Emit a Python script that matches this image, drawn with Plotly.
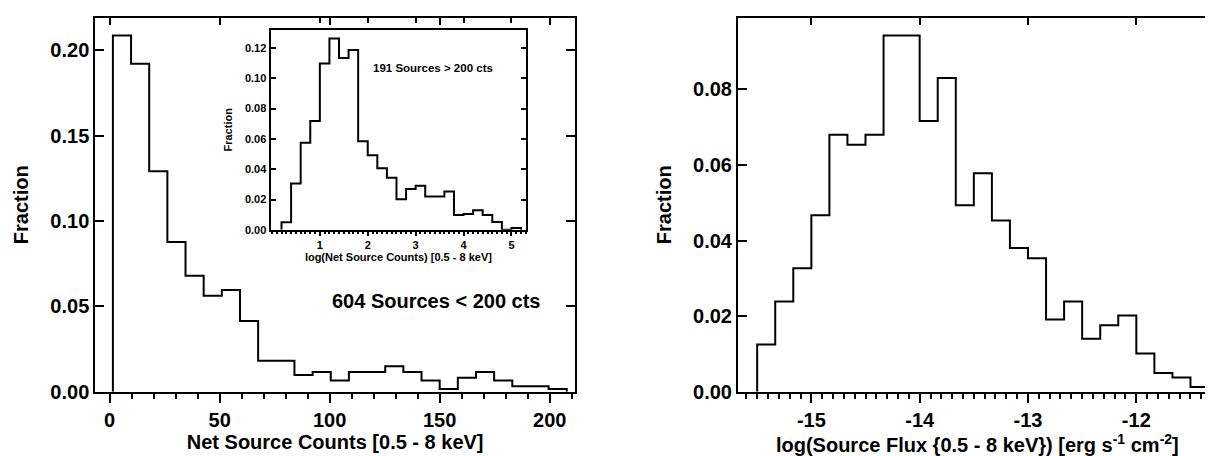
import plotly.graph_objects as go

# ---------------- data ----------------
# Left main panel: Net source counts (0.5-8 keV), 604 sources < 200 cts
counts_edges = [1.5, 9.75, 18.0, 26.25, 34.5, 42.75, 51.0, 59.25, 67.5, 75.75, 84.0,
                92.25, 100.5, 108.75, 117.0, 125.25, 133.5, 141.75, 150.0, 158.25,
                166.5, 174.75, 183.0, 191.25, 199.5, 207.75]
counts_frac = [0.2086, 0.1921, 0.1291, 0.0877, 0.0679, 0.0563, 0.0596, 0.0414, 0.0182,
               0.0182, 0.0099, 0.0116, 0.0066, 0.0116, 0.0116, 0.0149, 0.0116, 0.0066,
               0.0017, 0.0083, 0.0116, 0.0066, 0.0033, 0.0033, 0.0017]

# Inset: log(net source counts), 191 sources > 200 cts
logc_edges = [0.2, 0.4, 0.6, 0.8, 1.0, 1.2, 1.4, 1.6, 1.8, 2.0, 2.2, 2.4, 2.6, 2.8, 3.0,
              3.2, 3.4, 3.6, 3.8, 4.0, 4.2, 4.4, 4.6, 4.8, 5.0, 5.2]
logc_frac = [0.0050, 0.0305, 0.0574, 0.0718, 0.1097, 0.1262, 0.1133, 0.1187, 0.0585,
             0.0492, 0.0406, 0.0344, 0.0202, 0.0269, 0.0290, 0.0219, 0.0219, 0.0252,
             0.0097, 0.0105, 0.0129, 0.0097, 0.0052, 0.0000, 0.0012]

# Right panel: log(source flux)
flux_edges = [-15.5, -15.3333, -15.1667, -15.0, -14.8333, -14.6667, -14.5, -14.3333,
              -14.1667, -14.0, -13.8333, -13.6667, -13.5, -13.3333, -13.1667, -13.0,
              -12.8333, -12.6667, -12.5, -12.3333, -12.1667, -12.0, -11.8333, -11.6667,
              -11.5, -11.3333]
flux_frac = [0.0125, 0.0239, 0.0327, 0.0467, 0.0680, 0.0653, 0.0680, 0.0942, 0.0942,
             0.0716, 0.0830, 0.0493, 0.0578, 0.0453, 0.0380, 0.0353, 0.0191, 0.0239,
             0.0140, 0.0176, 0.0202, 0.0101, 0.0050, 0.0038, 0.0013]

left_xticks = [0, 50, 100, 150, 200]
left_xlabels = ["0", "50", "100", "150", "200"]
inset_xticks = [1, 2, 3, 4, 5]
inset_xlabels = ["1", "2", "3", "4", "5"]
right_xticks = [-15, -14, -13, -12]
right_xlabels = ["-15", "-14", "-13", "-12"]

main_text = "604 Sources < 200 cts"
inset_text = "191 Sources > 200 cts"

FONT = "Liberation Sans, Arial, Helvetica, sans-serif"


def step_xy(edges, vals):
    xs = [edges[0]] + list(edges[:-1]) + [edges[-1], edges[-1]]
    ys = [0] + list(vals) + [vals[-1], 0]
    return xs, ys


def bfont(size):
    return dict(family=FONT, size=size, color="black", weight="bold")


fig = go.Figure()

for edges, vals, xa, ya in [(counts_edges, counts_frac, "x", "y"),
                            (logc_edges, logc_frac, "x2", "y2"),
                            (flux_edges, flux_frac, "x3", "y3")]:
    xs, ys = step_xy(edges, vals)
    fig.add_trace(go.Scatter(x=xs, y=ys, mode="lines", line_shape="hv",
                             line=dict(color="black", width=2),
                             xaxis=xa, yaxis=ya, showlegend=False, hoverinfo="skip"))

# empty traces for the top (inside-tick) overlay axes
for xa, ya in [("x4", "y"), ("x5", "y2"), ("x6", "y3")]:
    fig.add_trace(go.Scatter(x=[None], y=[None], mode="lines", xaxis=xa, yaxis=ya,
                             showlegend=False, hoverinfo="skip"))

L_DOM = [87.3 / 1213, 567.0 / 1213]
R_DOM = [730.0 / 1213, 1208.7 / 1213]
Y_DOM = [1 - 393.3 / 456, 1 - 10.0 / 456]
I_XDOM = [262.5 / 1213, 518.3 / 1213]
I_YDOM = [1 - 227.3 / 456, 1 - 22.3 / 456]

L_RANGE = [-6.5, 211.5]
I_RANGE = [-0.03, 5.31]
R_RANGE = [-15.677, -11.258]


def xbottom(domain, rng, ticks, labels, minor_dtick, size, ticklen, minorlen, title,
            anchor, standoff):
    return dict(domain=domain, range=rng, anchor=anchor, tickmode="array", tickvals=ticks,
                ticktext=labels,
                ticks="outside", ticklen=ticklen, tickwidth=2, tickcolor="black",
                minor=dict(dtick=minor_dtick, tick0=0, ticks="outside", ticklen=minorlen,
                           tickwidth=1.5, tickcolor="black", showgrid=False),
                showline=True, linewidth=2, linecolor="black", mirror=True,
                showgrid=False, zeroline=False, tickfont=bfont(size),
                title=dict(text=title, font=bfont(size), standoff=standoff))


def xtop(over, rng, ticks, ticklen):
    return dict(overlaying=over, side="top", range=rng, tickmode="array", tickvals=ticks,
                ticks="inside", ticklen=ticklen, tickwidth=2, tickcolor="black",
                showticklabels=False, showline=False, showgrid=False, zeroline=False)


def yleft(domain, rng, dtick, size, ticklen, title, anchor, standoff):
    return dict(domain=domain, range=rng, anchor=anchor, dtick=dtick, tick0=0,
                tickformat=".2f", ticks="inside", ticklen=ticklen, tickwidth=2,
                tickcolor="black", showline=True, linewidth=2, linecolor="black",
                mirror="ticks", showgrid=False, zeroline=False, tickfont=bfont(size),
                title=dict(text=title, font=bfont(size), standoff=standoff))


fig.update_layout(
    width=1213, height=456, autosize=False,
    margin=dict(l=0, r=0, t=0, b=0),
    paper_bgcolor="white", plot_bgcolor="white",
    font=bfont(20),
    xaxis=xbottom(L_DOM, L_RANGE, left_xticks, left_xlabels, 10, 20, 9, 5,
                  "Net Source Counts [0.5 - 8 keV]", "y", 2),
    yaxis=yleft(Y_DOM, [0, 0.219], 0.05, 20, 9, "Fraction", "x", 16),
    xaxis2=xbottom(I_XDOM, I_RANGE, inset_xticks, inset_xlabels, 0.1, 11, 4, 2.5,
                   "log(Net Source Counts) [0.5 - 8 keV]", "y2", 0),
    yaxis2=yleft(I_YDOM, [0, 0.132], 0.02, 11, 5, "Fraction", "x2", 10),
    xaxis3=xbottom(R_DOM, R_RANGE, right_xticks, right_xlabels, 0.1, 20, 9, 5,
                   "log(Source Flux {0.5 - 8 keV}) [erg s<sup>-1</sup> cm<sup>-2</sup>]",
                   "y3", 2),
    yaxis3=yleft(Y_DOM, [0, 0.0989], 0.02, 20, 9, "Fraction", "x3", 16),
    xaxis4=xtop("x", L_RANGE, left_xticks, 7),
    xaxis5=xtop("x2", I_RANGE, inset_xticks, 5),
    xaxis6=xtop("x3", R_RANGE, right_xticks, 7),
    annotations=[
        dict(text=main_text, x=428 / 1213, y=1 - 300 / 456, xref="paper", yref="paper",
             showarrow=False, font=bfont(20), xanchor="center", yanchor="middle"),
        dict(text=inset_text, x=425 / 1213, y=1 - 61 / 456, xref="paper", yref="paper",
             showarrow=False, font=bfont(11.5), xanchor="center", yanchor="middle"),
    ],
)

fig.write_html("out.html")
